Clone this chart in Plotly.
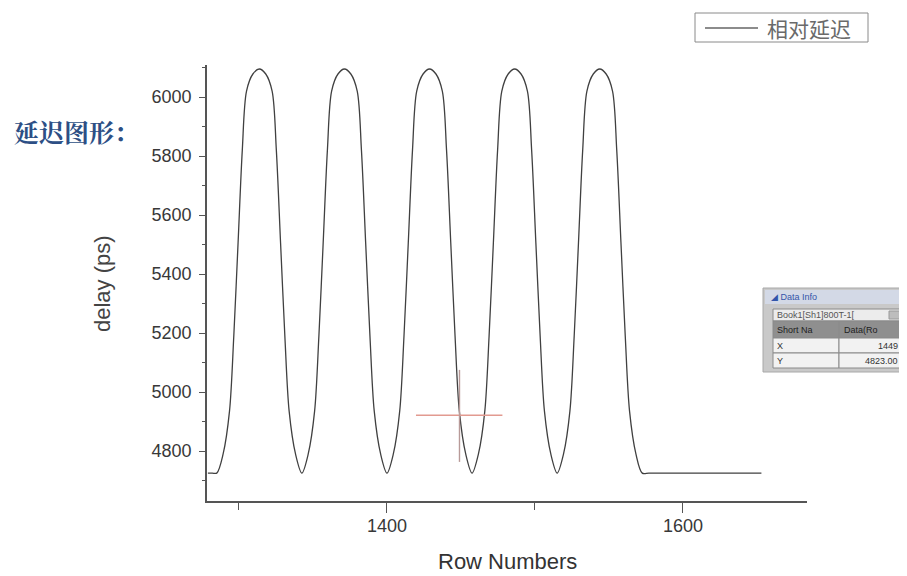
import plotly.graph_objects as go

# ---------------- data ----------------
row_numbers = [
    1279, 1282, 1285,
    1289.3, 1293.6, 1296.5, 1299.4, 1302.25, 1305.1, 1309.4, 1313.75,
    1318.1, 1322.4, 1325.25, 1328.1, 1331.0, 1333.9, 1338.2, 1342.5,
    1346.8, 1351.1, 1354.0, 1356.9, 1359.75, 1362.6, 1366.9, 1371.25,
    1375.6, 1379.9, 1382.75, 1385.6, 1388.5, 1391.4, 1395.7, 1400.0,
    1404.3, 1408.6, 1411.5, 1414.4, 1417.25, 1420.1, 1424.4, 1428.75,
    1433.1, 1437.4, 1440.25, 1443.1, 1446.0, 1448.9, 1453.2, 1457.5,
    1461.8, 1466.1, 1469.0, 1471.9, 1474.75, 1477.6, 1481.9, 1486.25,
    1490.6, 1494.9, 1497.75, 1500.6, 1503.5, 1506.4, 1510.7, 1515.0,
    1519.3, 1523.6, 1526.5, 1529.4, 1532.25, 1535.1, 1539.4, 1543.75,
    1548.1, 1552.4, 1555.25, 1558.1, 1561.0, 1563.9, 1568.2, 1572.5,
    1577, 1590, 1610, 1630, 1653,
]
delay_ps = [
    4725, 4725, 4725,
    4790, 4935, 5190, 5506, 5820, 6020, 6078, 6095,
    6078, 6020, 5820, 5506, 5190, 4935, 4790, 4725,
    4790, 4935, 5190, 5506, 5820, 6020, 6078, 6095,
    6078, 6020, 5820, 5506, 5190, 4935, 4790, 4725,
    4790, 4935, 5190, 5506, 5820, 6020, 6078, 6095,
    6078, 6020, 5820, 5506, 5190, 4935, 4790, 4725,
    4790, 4935, 5190, 5506, 5820, 6020, 6078, 6095,
    6078, 6020, 5820, 5506, 5190, 4935, 4790, 4725,
    4790, 4935, 5190, 5506, 5820, 6020, 6078, 6095,
    6078, 6020, 5820, 5506, 5190, 4935, 4790, 4725,
    4725, 4725, 4725, 4725, 4725,
]
series_name = "相对延迟"
x_title = "Row Numbers"
y_title = "delay (ps)"
side_title = "延迟图形："

# cursor (crosshair)
cursor_x = 1449
cursor_y = 4921
cursor_h_span = [1419.6, 1478]
cursor_v_span = [4763, 5075]

# data info panel text
info_title = "Data Info"
info_book = "Book1[Sh1]800T-1["
info_header = ["Short Na", "Data(Ro"]
info_rows = [["X", "1449"], ["Y", "4823.00"]]

x_range = [1278.4, 1683.8]
y_range = [4630.5, 6108.5]

# ---------------- figure ----------------
# page body has an 8px margin; the figure is sized / placed to compensate
W, H = 899, 568
ML, MR, MT, MB = 199, 100, 57, 75
PW, PH = W - ML - MR, H - MT - MB
OFF = 8


def px(x):  # reference pixel x -> paper
    return (x - OFF - ML) / PW


def py(y):  # reference pixel y -> paper
    return (H - MB - (y - OFF)) / PH


fig = go.Figure()
fig.add_trace(go.Scatter(
    x=row_numbers, y=delay_ps, mode="lines", name=series_name,
    line=dict(color="#404040", width=1.3, shape="spline", smoothing=0.9),
    showlegend=False,
))

sans = "Liberation Sans, Arial, sans-serif"
tick_font = dict(family=sans, size=18, color="#383838")

fig.update_layout(
    width=W, height=H,
    margin=dict(l=ML, r=MR, t=MT, b=MB, autoexpand=False),
    paper_bgcolor="white", plot_bgcolor="white",
    showlegend=False,
    xaxis=dict(
        range=x_range, dtick=200, tick0=0, showgrid=False, zeroline=False,
        showline=True, linecolor="#555555", linewidth=1.6, automargin=False,
        ticks="outside", ticklen=10, tickwidth=1.3, tickcolor="#555555",
        minor=dict(dtick=100, tick0=0, ticks="outside", ticklen=7, tickcolor="#555555", tickwidth=1.2),
        tickfont=tick_font, ticklabelstandoff=-2,
    ),
    yaxis=dict(
        range=y_range, dtick=200, tick0=0, showgrid=False, zeroline=False,
        showline=True, linecolor="#555555", linewidth=1.6, automargin=False,
        ticks="outside", ticklen=6, tickwidth=1.3, tickcolor="#555555",
        minor=dict(dtick=100, tick0=0, ticks="outside", ticklen=3, tickcolor="#555555", tickwidth=1.2),
        tickfont=tick_font, ticklabelstandoff=4,
    ),
)

shapes = []
annotations = []

# axis titles
annotations.append(dict(text=x_title, xref="paper", yref="paper", x=px(507), y=py(561),
                        xanchor="center", yanchor="middle", showarrow=False,
                        font=dict(family=sans, size=22, color="#333333")))
annotations.append(dict(text=y_title, xref="paper", yref="paper", x=px(102), y=py(284),
                        xanchor="center", yanchor="middle", showarrow=False, textangle=-90,
                        font=dict(family=sans, size=22, color="#444444")))

# crosshair
shapes.append(dict(type="line", xref="x", yref="y", x0=cursor_h_span[0], x1=cursor_h_span[1],
                   y0=cursor_y, y1=cursor_y, line=dict(color="#e29a90", width=1.6)))
shapes.append(dict(type="line", xref="x", yref="y", x0=cursor_x, x1=cursor_x,
                   y0=cursor_v_span[0], y1=cursor_v_span[1], line=dict(color="#b89a98", width=1.4)))

# legend (drawn like the original boxed legend)
shapes.append(dict(type="rect", xref="paper", yref="paper", x0=px(695), x1=px(868),
                   y0=py(42), y1=py(13), line=dict(color="#8a8a8a", width=1), fillcolor="white"))
shapes.append(dict(type="line", xref="paper", yref="paper", x0=px(705), x1=px(758),
                   y0=py(28), y1=py(28), line=dict(color="#666666", width=1.3)))
annotations.append(dict(text=series_name, xref="paper", yref="paper", x=px(765), y=py(28),
                        xanchor="left", yanchor="middle", showarrow=False,
                        font=dict(family="Noto Sans CJK SC", size=21, color="#6a6a6a")))

# side title
annotations.append(dict(
    text="<b>" + side_title + "</b>", xref="paper", yref="paper", x=px(12), y=py(131),
    xanchor="left", yanchor="middle", showarrow=False,
    font=dict(family="Noto Serif CJK SC, Noto Sans CJK SC", size=25, color="#2d4f85"),
))


# data info panel
def rect(x0, y0, x1, y1, fill, line="#8a8a8a", w=1):
    shapes.append(dict(type="rect", xref="paper", yref="paper",
                       x0=px(x0), x1=px(x1), y0=py(y1), y1=py(y0),
                       fillcolor=fill, line=dict(color=line, width=w)))


def txt(s, x, y, anchor="left", size=9, color="#333333"):
    annotations.append(dict(text=s, xref="paper", yref="paper", x=px(x), y=py(y),
                            xanchor=anchor, yanchor="middle", showarrow=False,
                            font=dict(family="Liberation Sans, Arial", size=size, color=color)))


rect(763, 288, 905, 372, "#c9c9c9", "#a8a8a8")
rect(765, 290, 903, 304, "#d3d9e6", "#d3d9e6", 0)
txt("◢ " + info_title, 769, 297, size=9, color="#3355aa")
rect(773, 309, 902, 321, "#ececec")
rect(889, 311, 900, 319, "#bdbdbd", "#9a9a9a")
txt(info_book, 775, 315, size=9, color="#555555")
rect(773, 321, 839, 338, "#8f8f8f")
rect(839, 321, 902, 338, "#8f8f8f")
txt(info_header[0], 775, 329.5, size=9, color="#1e1e1e")
txt(info_header[1], 842, 329.5, size=9, color="#1e1e1e")
rect(773, 338, 839, 353, "#f2f2f2")
rect(839, 338, 902, 353, "#f2f2f2")
txt(info_rows[0][0], 775, 345.5, size=9)
txt(info_rows[0][1], 900, 345.5, anchor="right", size=9)
rect(773, 353, 839, 368, "#f2f2f2")
rect(839, 353, 902, 368, "#f2f2f2")
txt(info_rows[1][0], 775, 360.5, size=9)
txt(info_rows[1][1], 900, 360.5, anchor="right", size=9)

fig.update_layout(shapes=shapes, annotations=annotations)

fig.write_html("out.html")
